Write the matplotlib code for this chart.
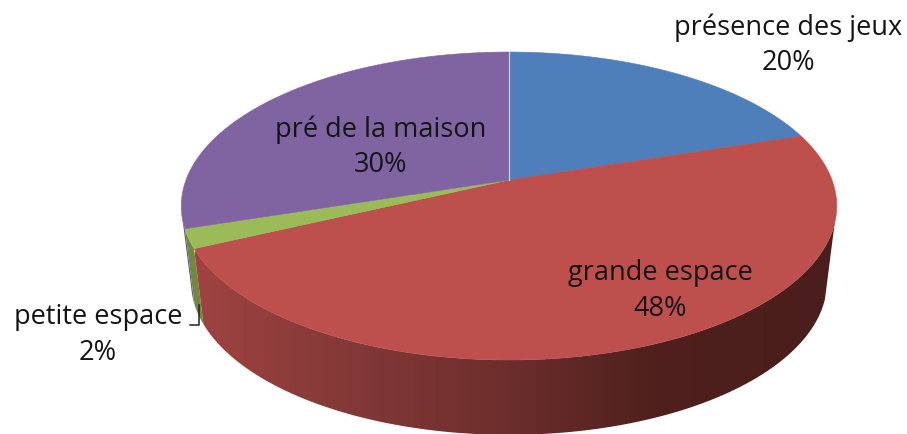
import numpy as np
import matplotlib
matplotlib.use("Agg")
import matplotlib.pyplot as plt
from matplotlib.colors import LinearSegmentedColormap
from matplotlib.patches import Polygon

labels = ["présence des jeux", "grande espace", "petite espace", "pré de la maison"]
values = [20, 48, 2, 30]
colors = ["#4f7fba", "#bd4f4c", "#9bbb59", "#8063a1"]
sideColors = ["#3a5f8a", "#8c3b39", "#6f8a3c", "#6a5488"]
labelPos = [(788, 45), (660, 291), (98, 335), (381, 147)]

plt.rcParams['font.family'] = ['Open Sans', 'DejaVu Sans']

fig = plt.figure(figsize=(9.07, 4.34), dpi=100)
ax = fig.add_axes([0, 0, 1, 1])
ax.set_xlim(0, 907)
ax.set_ylim(434, 0)
ax.axis('off')

#Perspective tilt of the pie disc.
tilt = 0.169

def Rim(angles, hubY, rx, ry):
    #angles in degrees, clockwise from the top of the pie.
    a = np.radians(angles)
    s = -np.cos(a)
    d = 1 - tilt * s
    return np.column_stack((509 + rx * np.sin(a) / d, hubY + ry * s / d))

def TopRim(angles):
    return Rim(angles, 180, 323, 149.6)

def BottomRim(angles):
    return Rim(angles, 256, 313.4, 148.6)

def Side(a0, a1):
    angles = np.linspace(a0, a1, 150)
    return np.vstack((TopRim(angles), BottomRim(angles)[::-1]))

edges = np.cumsum([0] + values) * 3.6

#Outer wall, only the front part of the pie shows.
purpleSide = Polygon(Side(edges[3], edges[3] + 6), closed=True, fc=sideColors[3], ec='none')
ax.add_patch(purpleSide)
greenSide = Polygon(Side(edges[2], edges[3]), closed=True, fc=sideColors[2], ec='none')
ax.add_patch(greenSide)

#Red wall has the shading running left to right.
redPoly = Polygon(Side(106, edges[2]), closed=True, fc='none', ec='none')
ax.add_patch(redPoly)
shade = LinearSegmentedColormap.from_list("shade", [
    (0.0, "#a04341"), (0.17, "#8a3c3a"), (0.49, "#6c2e2c"),
    (0.72, "#4f201d"), (1.0, "#4a1e1c")])
img = ax.imshow(np.linspace(0, 1, 640).reshape(1, -1), cmap=shade, aspect='auto',
                extent=(195, 836, 440, 200), zorder=2)
img.set_clip_path(redPoly)
ax.set_xlim(0, 907)
ax.set_ylim(434, 0)

#Top surface.
for i in range(len(values)):
    arc = TopRim(np.linspace(edges[i], edges[i + 1], 200))
    pts = np.vstack(([[509, 180]], arc))
    ax.add_patch(Polygon(pts, closed=True, fc=colors[i], ec=colors[i], lw=0.4, zorder=3))

#Thin light seam where the first and last slices meet.
ax.plot([509, 509], [52, 180], color="#c9d3e6", lw=0.9, zorder=4)

#Leader line of the small slice.
ax.plot([198.5, 198.5, 190], [305, 325, 325], color="#222222", lw=1.1, zorder=4)

for i in range(len(values)):
    ax.text(labelPos[i][0], labelPos[i][1], labels[i] + "\n" + str(values[i]) + "%",
            ha='center', va='center', fontsize=19.5, color="#141414",
            linespacing=1.35, zorder=5)

fig.savefig("out.png", dpi=100)
